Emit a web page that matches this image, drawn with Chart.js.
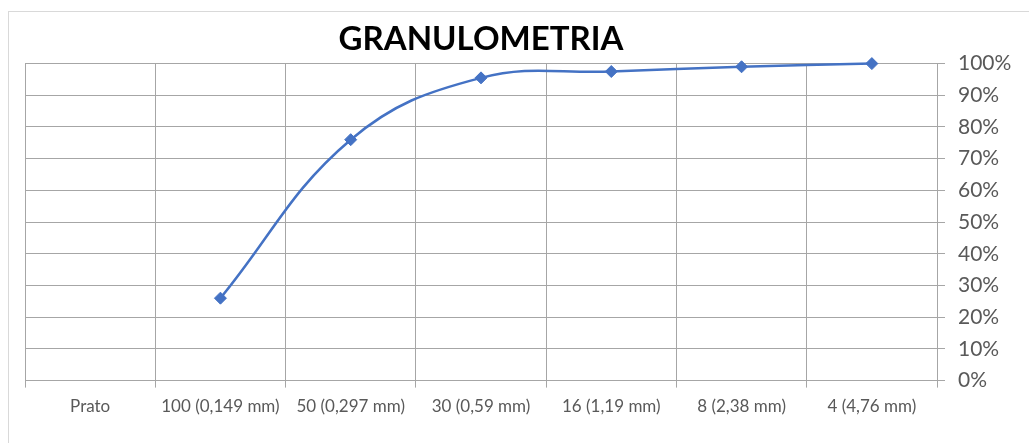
<!DOCTYPE html>
<html>
<head>
<meta charset="utf-8">
<script src="https://cdn.jsdelivr.net/npm/chart.js@4"></script>
<style>
  body { margin: 0; background: #fff; }
  #frame { position: absolute; left: 8px; top: 11px; width: 1100px; height: 500px;
           border-left: 1px solid #d9d9d9; border-top: 1px solid #d9d9d9; }
  #myChart { position: absolute; left: 0; top: 0; }
</style>
</head>
<body>
<div id="frame"></div>
<canvas id="myChart" width="1029" height="443"></canvas>
<script>
// sieve sizes along the bottom
const categories = ['Prato', '100 (0,149 mm)', '50 (0,297 mm)', '30 (0,59 mm)', '16 (1,19 mm)', '8 (2,38 mm)', '4 (4,76 mm)'];
// percent passing (no point for Prato)
const passing = [null, 26, 76, 95.5, 97.5, 99, 100];

const yMin = 0;
const yMax = 100;
const yStep = 5;
const yLabelStep = 10;

const blue = '#4472C4';
const textGrey = '#595959';

const ctx = document.getElementById('myChart').getContext('2d');

const chart = new Chart(ctx, {
  type: 'line',
  data: {
    labels: categories,
    datasets: [{
      data: passing,
      borderColor: blue,
      backgroundColor: blue,
      borderWidth: 2.5,
      tension: 0.4,
      fill: false,
      pointStyle: 'rectRot',
      pointRadius: 6,
      pointBorderWidth: 1,
      clip: false
    }]
  },
  options: {
    responsive: false,
    animation: false,
    layout: {
      padding: { left: 25, right: 0, top: 20, bottom: 17 }
    },
    plugins: {
      legend: { display: false },
      tooltip: { enabled: false },
      title: {
        display: true,
        fullSize: false, // center over the plot area, not the canvas
        text: 'GRANULOMETRIA',
        color: '#000',
        font: { family: 'Lato', size: 33, weight: 'bold' },
        padding: { top: 0, bottom: 4 }
      }
    },
    scales: {
      x: {
        offset: true,
        grid: {
          offset: true,
          color: '#a6a6a6',
          tickLength: 7
        },
        border: { color: '#a6a6a6' },
        ticks: {
          color: textGrey,
          padding: 9,
          maxRotation: 0,
          autoSkip: false,
          font: { family: 'Lato', size: 17 }
        },
        afterFit: (scale) => {
          scale.paddingLeft = 0;
          scale.paddingRight = 0;
        }
      },
      y: {
        position: 'right',
        min: yMin,
        max: yMax,
        grid: {
          color: (c) => (c.tick && c.tick.value % yLabelStep === 0) ? '#a6a6a6' : '#d0d0d0',
          tickColor: (c) => (c.tick && c.tick.value % yLabelStep === 0) ? '#a6a6a6' : 'rgba(0,0,0,0)',
          tickLength: 8
        },
        border: { color: '#a6a6a6' },
        ticks: {
          stepSize: yStep,
          color: textGrey,
          padding: 13,
          font: { family: 'Lato', size: 21 },
          callback: (v) => v % yLabelStep === 0 ? v + '%' : ''
        },
        afterFit: (scale) => {
          scale.width = 1029 - 937;
          scale.paddingTop = 0;
          scale.paddingBottom = 0;
        }
      }
    }
  }
});
</script>
</body>
</html>
